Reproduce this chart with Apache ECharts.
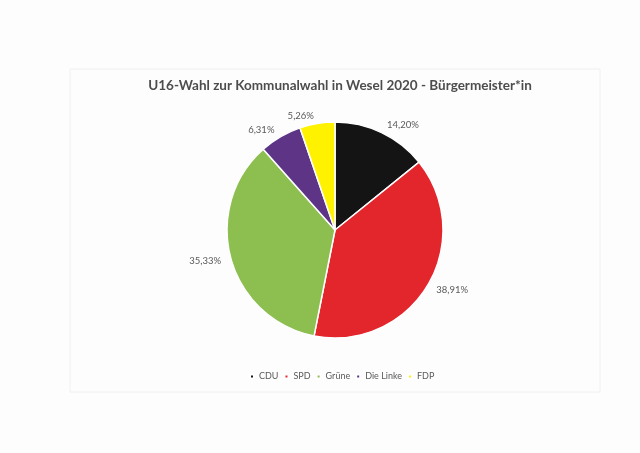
<!DOCTYPE html>
<html>
<head>
<meta charset="utf-8">
<script src="https://cdn.jsdelivr.net/npm/echarts@6/dist/echarts.min.js"></script>
<style>
html,body{margin:0;padding:0;background:#fdfdfd;}
#c{width:640px;height:453px;}
</style>
</head>
<body>
<div id="c"></div>
<script>
const titleText = 'U16-Wahl zur Kommunalwahl in Wesel 2020 - Bürgermeister*in';
const categories = ['CDU', 'SPD', 'Grüne', 'Die Linke', 'FDP'];
const values = [14.20, 38.91, 35.33, 6.31, 5.26];
const colors = ['#141414', '#e2262c', '#8dbf50', '#5e3586', '#fff200'];

const chart = echarts.init(document.getElementById('c'), null, {renderer: 'canvas'});
chart.setOption({
  backgroundColor: '#fdfdfd',
  animation: false,
  title: {
    text: titleText,
    left: 335,
    textAlign: 'center',
    top: 74,
    textStyle: {fontFamily: 'Lato', fontSize: 13.5, fontWeight: 'bold', color: '#4d4d4d'}
  },
  legend: {
    data: categories,
    left: 249,
    top: 372,
    icon: 'rect',
    itemWidth: 4,
    itemHeight: 4,
    itemGap: 5,
    padding: 0,
    textStyle: {fontFamily: 'Lato', fontSize: 9, color: '#595959'}
  },
  graphic: [{
    type: 'rect',
    shape: {x: 70, y: 69, width: 530, height: 323},
    style: {fill: 'none', stroke: '#f0f0f0', lineWidth: 1},
    silent: true
  }],
  series: [{
    type: 'pie',
    center: [335, 230],
    radius: 108,
    startAngle: 90,
    clockwise: true,
    itemStyle: {borderColor: '#ffffff', borderWidth: 1.5},
    label: {
      show: true,
      position: 'outside',
      formatter: p => p.value.toFixed(2).replace('.', ',') + '%',
      fontFamily: 'Lato',
      fontSize: 9.5,
      color: '#595959',
      distanceToLabelLine: 2
    },
    labelLine: {show: false, length: 8, length2: 0},
    avoidLabelOverlap: false,
    data: categories.map((c, i) => ({name: c, value: values[i], itemStyle: {color: colors[i]}}))
  }]
});
</script>
</body>
</html>
